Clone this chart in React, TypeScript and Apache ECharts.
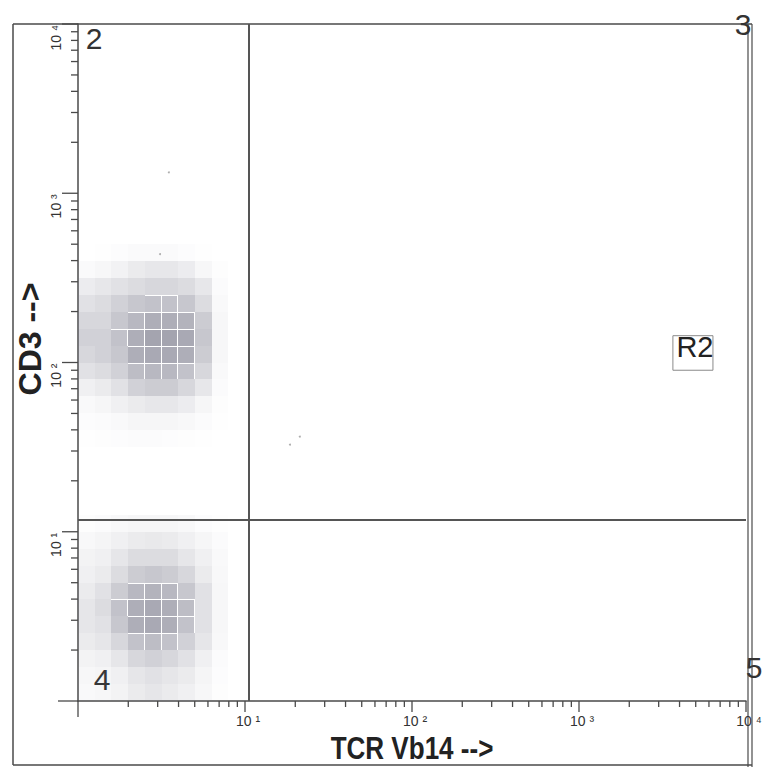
import React, { useEffect, useRef } from "react";
import * as echarts from "echarts";

// ---- axes ----
const AXIS_MIN = 1;
const AXIS_MAX = 10000;
const DECADES = [1, 10, 100, 1000, 10000];
const DECADE_LABELS = ["", "10 ¹", "10 ²", "10 ³", "10 ⁴"];
const MINOR_MULTIPLIERS = [2, 3, 4, 5, 6, 7, 8, 9];

// ---- quadrant gates ----
const GATE_X = 10.5;
const GATE_Y = 11.7;

// ---- R2 gate (data coords) ----
const R2_LOW = [3650, 90];
const R2_HIGH = [6340, 144];

// ---- density grids (log10 bins of 0.1), rows listed top -> bottom ----
const BIN_STEP = 0.1;
const UPPER_X0 = 0.0;
const UPPER_Y_TOP = 2.7;
const UPPER_DENSITY = [
  [0, 0.1, 0.3, 0.5, 0.5, 0.5, 0.3, 0.1, 0],
  [0.5, 0.8, 1.3, 2, 2.3, 2.3, 1.8, 0.8, 0.2],
  [1.8, 2.3, 3, 3.5, 4, 4, 3.5, 2.3, 0.4],
  [3, 3.5, 4.5, 5.5, 6, 6, 5.5, 3.5, 0.6],
  [4, 4, 5.5, 7, 8, 8, 7.5, 5, 0.8],
  [4.5, 4.5, 6, 8, 9, 9, 8.5, 5.5, 0.8],
  [4, 4.5, 5.5, 8, 8.5, 8.5, 8, 5, 0.8],
  [3, 3.5, 4.5, 6.5, 7, 7, 6, 4, 0.6],
  [1.5, 2, 3, 4.5, 5, 5, 4, 2.3, 0.4],
  [0.6, 0.9, 1.4, 2, 2.3, 2.3, 1.8, 0.9, 0.2],
  [0.3, 0.4, 0.6, 0.9, 0.9, 0.9, 0.7, 0.4, 0.1],
  [0.1, 0.2, 0.3, 0.4, 0.4, 0.3, 0.2, 0.1, 0],
];
const LOWER_X0 = 0.0;
const LOWER_Y_TOP = 1.1;
const LOWER_DENSITY = [
  [0.2, 0.4, 0.7, 0.9, 0.9, 0.9, 0.7, 0.3, 0.1],
  [0.7, 1, 1.5, 2, 2.2, 2, 1.5, 0.9, 0.4],
  [1.2, 1.5, 2.5, 3.5, 3.5, 3.5, 2.5, 1.4, 0.6],
  [1.5, 2, 3.5, 5, 5.5, 5, 4, 2, 0.7],
  [2, 3, 5, 7, 7.5, 7, 5.5, 3, 0.8],
  [2.5, 3.5, 6, 8, 8.5, 8, 6.5, 3, 0.8],
  [2.5, 3, 5.5, 8, 8.5, 8, 6, 3, 0.8],
  [2, 2.5, 4, 6, 6.5, 6, 4.5, 2.5, 0.7],
  [1.2, 1.5, 2.5, 4, 4.5, 4, 3, 1.5, 0.4],
  [0.8, 1, 1.5, 2.5, 3, 2.5, 2, 1, 0.3],
  [0.6, 0.8, 1.2, 2, 2.5, 2, 1.5, 0.8, 0.2],
];
const MAX_DENSITY = 9;
const CORE_DENSITY = 6;

// ---- isolated events ----
const STRAY_X = [18.6, 21.3, 3.5, 3.1];
const STRAY_Y = [32.7, 36.5, 1330, 437];

function gridToCells(grid: number[][], x0: number, yTop: number) {
  const out: number[][] = [];
  grid.forEach((row, r) => {
    row.forEach((d, c) => {
      if (d <= 0) return;
      out.push([
        Math.pow(10, x0 + c * BIN_STEP),
        Math.pow(10, yTop - (r + 1) * BIN_STEP),
        d,
      ]);
    });
  });
  return out;
}

export default function App() {
  const ref = useRef<HTMLDivElement>(null);
  useEffect(() => {
    if (!ref.current) return;
    const chart = echarts.init(ref.current, null, { renderer: "svg" });
    const stepFactor = Math.pow(10, BIN_STEP);
    const cells = [
      ...gridToCells(UPPER_DENSITY, UPPER_X0, UPPER_Y_TOP),
      ...gridToCells(LOWER_DENSITY, LOWER_X0, LOWER_Y_TOP),
    ];
    const xTicks: number[][] = [];
    const yTicks: number[][] = [];
    DECADES.forEach((d, i) => {
      xTicks.push([d, AXIS_MIN, 1]);
      yTicks.push([AXIS_MIN, d, 1]);
      if (i < DECADES.length - 1) {
        MINOR_MULTIPLIERS.forEach((m) => {
          xTicks.push([d * m, AXIS_MIN, 0]);
          yTicks.push([AXIS_MIN, d * m, 0]);
        });
      }
    });
    const font = "Liberation Sans, Arial, sans-serif";
    const lineColor = "#4a4a4a";

    chart.setOption({
      animation: false,
      backgroundColor: "#ffffff",
      grid: { left: 78, top: 24, width: 668, height: 677, containLabel: false },
      xAxis: {
        type: "log",
        logBase: 10,
        min: AXIS_MIN,
        max: AXIS_MAX,
        axisLine: { show: true, lineStyle: { color: lineColor, width: 1.5 } },
        axisTick: { show: false },
        axisLabel: { show: false },
        splitLine: { show: false },
      },
      yAxis: {
        type: "log",
        logBase: 10,
        min: AXIS_MIN,
        max: AXIS_MAX,
        axisLine: { show: true, lineStyle: { color: lineColor, width: 1.5 } },
        axisTick: { show: false },
        axisLabel: { show: false },
        splitLine: { show: false },
      },
      series: [
        {
          type: "custom",
          name: "density",
          clip: true,
          data: cells,
          renderItem: (params: any, api: any) => {
            const x = api.value(0);
            const y = api.value(1);
            const d = api.value(2);
            const p0 = api.coord([x, y]);
            const p1 = api.coord([x * stepFactor, y * stepFactor]);
            const x0 = Math.round(p0[0]);
            const x1 = Math.round(p1[0]);
            const yb = Math.round(p0[1]);
            const yt = Math.round(p1[1]);
            const a = Math.min(1, (d / MAX_DENSITY) * 0.64);
            const gap = d >= CORE_DENSITY ? 1 : 0;
            return {
              type: "rect",
              shape: { x: x0, y: yt + gap, width: x1 - x0 - gap, height: yb - yt - gap },
              style: { fill: `rgba(112,112,130,${a.toFixed(3)})` },
            };
          },
          markLine: {
            silent: true,
            symbol: "none",
            label: { show: false },
            lineStyle: { color: "#555", width: 2, type: "solid" },
            data: [{ xAxis: GATE_X }, { yAxis: GATE_Y }],
          },
          markArea: {
            silent: true,
            itemStyle: { color: "rgba(0,0,0,0)", borderColor: "#8a8a8a", borderWidth: 1 },
            label: {
              show: true,
              position: "insideTopLeft",
              distance: 0,
              offset: [4, -3],
              fontFamily: font,
              fontSize: 29,
              color: "#222",
            },
            data: [[{ name: "R2", coord: R2_LOW }, { coord: R2_HIGH }]],
          },
        },
        {
          type: "scatter",
          name: "events",
          symbol: "circle",
          symbolSize: 2,
          itemStyle: { color: "#999" },
          data: STRAY_X.map((x, i) => [x, STRAY_Y[i]]),
        },
        {
          type: "custom",
          name: "xTicks",
          clip: false,
          data: xTicks,
          renderItem: (params: any, api: any) => {
            const v = api.value(0);
            const major = api.value(2) === 1;
            const p = api.coord([v, AXIS_MIN]);
            const len = major ? (v === AXIS_MIN ? 16 : 11) : 6;
            return {
              type: "line",
              shape: { x1: p[0], y1: p[1], x2: p[0], y2: p[1] + len },
              style: { stroke: lineColor, lineWidth: 1.3 },
            };
          },
        },
        {
          type: "custom",
          name: "yTicks",
          clip: false,
          data: yTicks,
          renderItem: (params: any, api: any) => {
            const v = api.value(1);
            const major = api.value(2) === 1;
            const p = api.coord([AXIS_MIN, v]);
            const len = major ? (v === AXIS_MIN ? 20 : 16) : 7;
            return {
              type: "line",
              shape: { x1: p[0] - len, y1: p[1], x2: p[0], y2: p[1] },
              style: { stroke: lineColor, lineWidth: 1.3 },
            };
          },
        },
        {
          type: "custom",
          name: "xLabels",
          clip: false,
          data: DECADES.map((d) => [d, AXIS_MIN]),
          renderItem: (params: any, api: any) => {
            const p = api.coord([api.value(0), AXIS_MIN]);
            return {
              type: "text",
              x: p[0] + 3,
              y: p[1] + 20,
              style: {
                text: DECADE_LABELS[params.dataIndex],
                fontFamily: font,
                fontSize: 14,
                fill: "#333",
                align: "center",
                verticalAlign: "middle",
              },
            };
          },
        },
        {
          type: "custom",
          name: "yLabels",
          clip: false,
          data: DECADES.map((d) => [AXIS_MIN, d]),
          renderItem: (params: any, api: any) => {
            const p = api.coord([AXIS_MIN, api.value(1)]);
            return {
              type: "text",
              x: p[0] - 22,
              y: p[1] + 1,
              rotation: Math.PI / 2,
              style: {
                text: DECADE_LABELS[params.dataIndex],
                fontFamily: font,
                fontSize: 14,
                fill: "#333",
                align: "right",
                verticalAlign: "middle",
              },
            };
          },
        },
      ],
      graphic: [
        { type: "line", shape: { x1: 13, y1: 24, x2: 752, y2: 24 }, style: { stroke: lineColor, lineWidth: 1.5 } },
        { type: "line", shape: { x1: 13, y1: 24, x2: 13, y2: 765 }, style: { stroke: lineColor, lineWidth: 1.5 } },
        { type: "line", shape: { x1: 13, y1: 765, x2: 752, y2: 765 }, style: { stroke: lineColor, lineWidth: 1.5 } },
        { type: "line", shape: { x1: 748, y1: 24, x2: 748, y2: 767 }, style: { stroke: lineColor, lineWidth: 1.2 } },
        { type: "line", shape: { x1: 752, y1: 24, x2: 752, y2: 767 }, style: { stroke: lineColor, lineWidth: 1.2 } },
        {
          type: "text",
          x: 30,
          y: 339,
          rotation: Math.PI / 2,
          style: {
            text: "CD3 -->",
            fontFamily: font,
            fontWeight: "bold",
            fontSize: 32,
            fill: "#222",
            align: "center",
            verticalAlign: "middle",
          },
        },
        {
          type: "text",
          x: 412,
          y: 748,
          scaleX: 0.84,
          style: {
            text: "TCR Vb14 -->",
            fontFamily: font,
            fontWeight: "bold",
            fontSize: 31,
            fill: "#222",
            align: "center",
            verticalAlign: "middle",
          },
        },
        { type: "text", x: 94, y: 38, style: { text: "2", fontFamily: font, fontSize: 30, fill: "#333", align: "center", verticalAlign: "middle" } },
        { type: "text", x: 743, y: 24, style: { text: "3", fontFamily: font, fontSize: 30, fill: "#333", align: "center", verticalAlign: "middle" } },
        { type: "text", x: 102, y: 679, style: { text: "4", fontFamily: font, fontSize: 30, fill: "#333", align: "center", verticalAlign: "middle" } },
        { type: "text", x: 754, y: 667, style: { text: "5", fontFamily: font, fontSize: 30, fill: "#333", align: "center", verticalAlign: "middle" } },
      ],
    });
    return () => chart.dispose();
  }, []);
  return (
    <div
      ref={ref}
      style={{ position: "fixed", left: 0, top: 0, width: 764, height: 767, background: "#fff" }}
    />
  );
}
